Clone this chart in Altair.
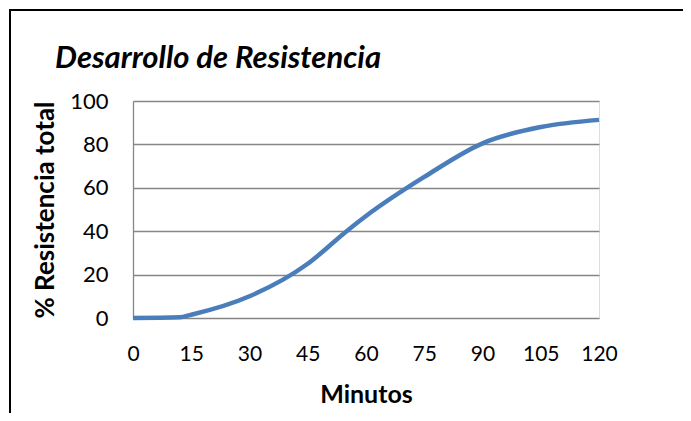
import altair as alt
import pandas as pd

minutos = [0, 12, 15, 30, 45, 55, 60, 75, 90, 105, 120]
resistencia = [0, 0.3, 1.5, 10, 25, 40, 47, 65, 80.5, 88, 91.3]

df = pd.DataFrame({"Minutos": minutos, "Resistencia": resistencia})

FONT = "Lato"

line = alt.Chart(df).mark_line(
    color="#4A7EBB", strokeWidth=4.5, interpolate="monotone"
).encode(
    x=alt.X("Minutos:Q", title="Minutos",
            scale=alt.Scale(domain=[0, 120], nice=False),
            axis=alt.Axis(values=[0, 15, 30, 45, 60, 75, 90, 105, 120],
                          grid=False, ticks=False, domain=False, labelFlush=False,
                          labelOverlap=False,
                          labelFontSize=21, labelFont=FONT, labelColor="#000",
                          labelPadding=25, titleFontSize=25, titleFont=FONT,
                          titleFontWeight="bold", titleColor="#000", titlePadding=18)),
    y=alt.Y("Resistencia:Q", title="% Resistencia total",
            scale=alt.Scale(domain=[0, 100], nice=False),
            axis=alt.Axis(values=[0, 20, 40, 60, 80, 100], grid=True,
                          gridColor="#868686", gridWidth=1.3, ticks=False,
                          domain=True, domainColor="#868686", domainWidth=1.3,
                          labelFlush=False, labelOverlap=False,
                          labelFontSize=22, labelFont=FONT, labelColor="#000",
                          labelPadding=25, titleFontSize=26, titleFont=FONT,
                          titleFontWeight="bold", titleColor="#000", titlePadding=11)),
)

frame = alt.Chart(df).mark_rect(fill=None, stroke="#000", strokeWidth=1.3).encode(
    x=alt.value(-123), x2=alt.value(552), y=alt.value(-91), y2=alt.value(330)
)

chart = alt.layer(frame, line).properties(
    width=466, height=217,
    autosize=alt.AutoSizeParams(type="none"),
    padding={"left": 125, "top": 93, "right": 84, "bottom": 95},
    title=alt.TitleParams(
        "Desarrollo de Resistencia", anchor="start", frame="group",
        font=FONT, fontSize=31, fontStyle="italic", fontWeight="bold",
        color="#000", dx=-78, offset=-90, baseline="alphabetic",
    ),
).configure_view(stroke=None).configure(background="white")

chart.save("out.html", embed_options={"renderer": "svg", "actions": False})
